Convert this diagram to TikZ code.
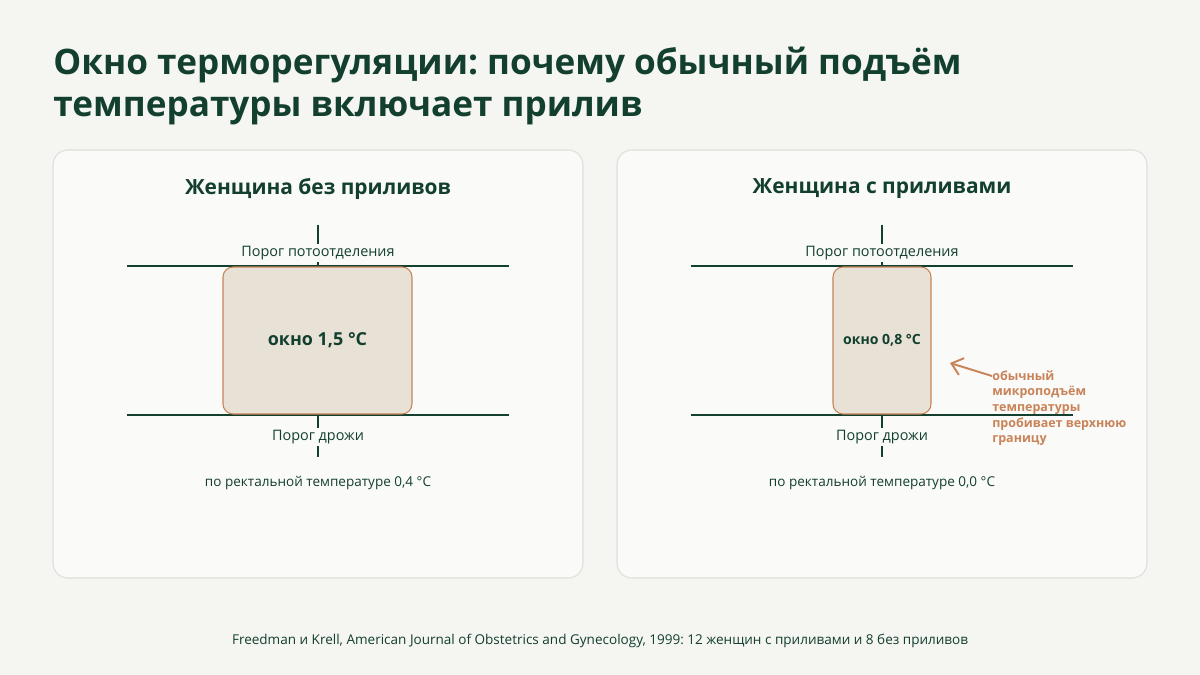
\documentclass[tikz,border=0pt]{standalone}
\usepackage{fontspec}
\setmainfont{Open Sans}
\frenchspacing
\usetikzlibrary{positioning,arrows.meta}
\definecolor{pagebg}{HTML}{F5F5F2}
\definecolor{cardfill}{HTML}{FAFAF8}
\definecolor{cardline}{HTML}{DEDEDA}
\definecolor{darkgreen}{HTML}{123F2E}
\definecolor{boxfill}{HTML}{E8E2D6}
\definecolor{accent}{HTML}{C98358}
\tikzset{
    card/.style={draw=cardline, fill=cardfill, line width=0.6pt, rounded corners=0.3cm},
    cardtitle/.style={text=darkgreen, font=\fontsize{11.9pt}{14pt}\selectfont\bfseries},
    threshold/.style={darkgreen, line width=1.1pt},
    marker/.style={darkgreen, line width=1.1pt},
    threshlabel/.style={fill=cardfill, text=darkgreen, inner sep=1pt, font=\fontsize{8.2pt}{10pt}\selectfont},
    window/.style={draw=accent, fill=boxfill, line width=0.6pt, rounded corners=0.2cm, text=darkgreen, font=\bfseries},
    note/.style={text=darkgreen, font=\fontsize{7.7pt}{9.5pt}\selectfont},
    remark/.style={text=accent, align=left, inner sep=0pt, font=\fontsize{7.1pt}{8.9pt}\selectfont\bfseries}
}
\begin{document}
\begin{tikzpicture}[x=0.02cm, y=-0.02cm]
\useasboundingbox[fill=pagebg] (0,0) rectangle (1200,675);
% title
\node[anchor=north west, align=left, inner sep=0pt, text=darkgreen,
  font=\fontsize{20pt}{23.5pt}\selectfont\bfseries] (title) at (53,47)
  {Окно терморегуляции: почему обычный подъём\\температуры включает прилив};
% cards
\draw[card] (53,150) rectangle (583,578);
\draw[card] (617,150) rectangle (1147,578);
\node[cardtitle] (lefthead) at (318,189) {Женщина без приливов};
\node[cardtitle] (righthead) at (882,189) {Женщина с приливами};
% left panel
\draw[marker] (318,225) -- (318,457);
\draw[threshold] (127,266) -- (509,266);
\draw[threshold] (127,415) -- (509,415);
\node[window, minimum width=3.78cm, minimum height=2.94cm,
  font=\fontsize{10.2pt}{12pt}\selectfont\bfseries] (wideWin) at (317.5,340.5) {\raisebox{-2pt}{окно 1,5 °C}};
\node[threshlabel] (leftsweat) at (318,253) {Порог потоотделения};
\node[threshlabel] (leftshiver) at (318,437) {Порог дрожи};
\node[note] (leftrect) at (318,483) {по ректальной температуре 0,4 °C};
% right panel
\draw[marker] (882,225) -- (882,457);
\draw[threshold] (691,266) -- (1073,266);
\draw[threshold] (691,415) -- (1073,415);
\node[window, minimum width=1.96cm, minimum height=2.94cm,
  font=\fontsize{8pt}{10pt}\selectfont\bfseries] (narrowWin) at (882,340.5) {\raisebox{-2pt}{окно 0,8 °C}};
\node[threshlabel] (rightsweat) at (882,253) {Порог потоотделения};
\node[threshlabel] (rightshiver) at (882,437) {Порог дрожи};
\node[note] (rightrect) at (882,483) {по ректальной температуре 0,0 °C};
% annotation
\node[remark, anchor=north west] (spike) at (992,370)
  {обычный\\микроподъём\\температуры\\пробивает верхнюю\\границу};
\coordinate (tip) at (950,363);
\draw[accent, line width=1.1pt, -{Straight Barb[length=6pt, width=10pt]}] (spike.north west) ++(0,6) -- (tip);
% footer
\node[note] (source) at (600,641)
  {Freedman и Krell, American Journal of Obstetrics and Gynecology, 1999: 12 женщин с приливами и 8 без приливов};
\end{tikzpicture}
\end{document}
